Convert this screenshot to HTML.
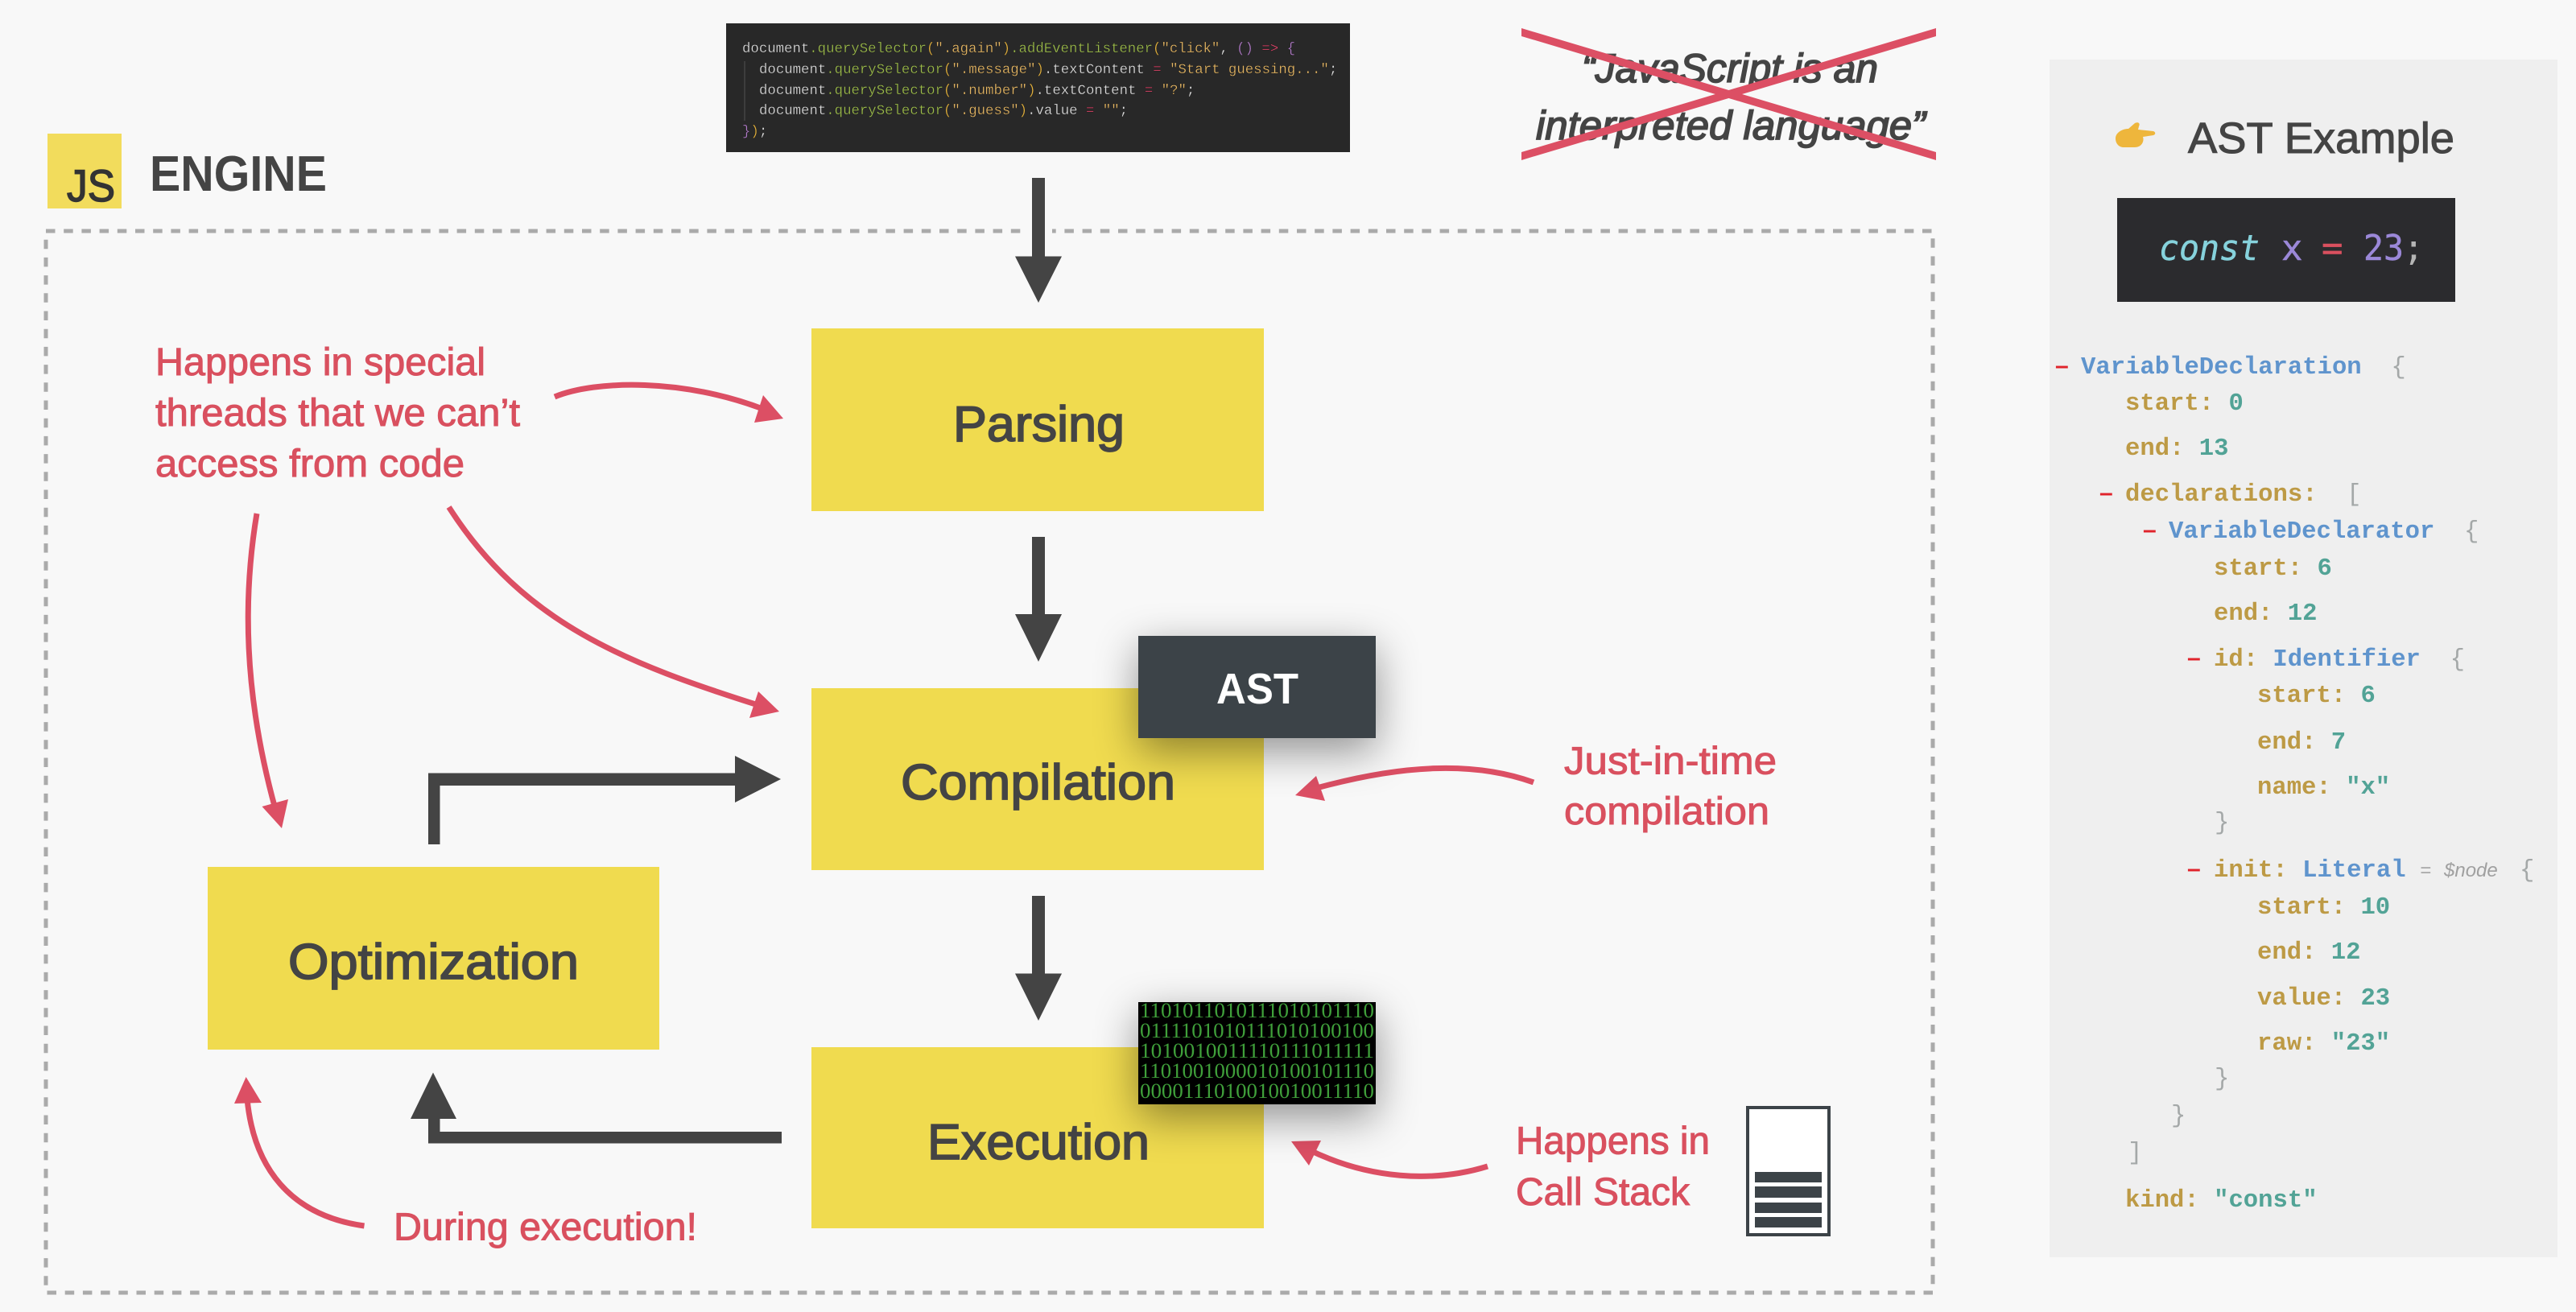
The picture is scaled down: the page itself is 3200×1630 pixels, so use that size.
<!DOCTYPE html>
<html><head><meta charset="utf-8"><style>
html,body{margin:0;padding:0;background:#f8f8f8;width:3200px;height:1630px;overflow:hidden}
svg{display:block;position:absolute;left:0;top:0}
text{white-space:pre;font-family:"Liberation Sans",sans-serif}
.h{fill:#444;stroke:#444;stroke-width:1.7px}
.r{fill:#d9505f;font-size:48px;stroke:#d9505f;stroke-width:1px}
.m{font-family:"Liberation Mono",monospace;font-size:17.35px;fill:#dcdcdc;stroke:currentColor;stroke-width:.2px}
.g{fill:#9dbb4e}.y{fill:#e0b040}.o{fill:#e2b565}.pk{fill:#d8486a}.pu{fill:#b07cc6}
.a{font-family:"Liberation Mono",monospace;font-size:30.58px;font-weight:bold;fill:#bd9a45}
.v{fill:#52a396}.t{fill:#5f94cd}.p{fill:#a4a8a8;font-weight:normal}
.d{font-size:30px;font-weight:bold;fill:#e0232b}
.b{font-family:"Liberation Serif",serif;font-size:26px;fill:#3f9f3a}
.c{font-family:"DejaVu Sans Mono",monospace;font-size:44px;stroke-width:.5px}
.box{position:absolute;width:295px;height:127px;box-shadow:0 16px 52px rgba(0,0,0,.42)}
</style></head><body>
<svg width="3200" height="1630" viewBox="0 0 3200 1630" xmlns="http://www.w3.org/2000/svg">
<rect width="3200" height="1630" fill="#f8f8f8"/>
<!-- engine frame -->
<rect x="57" y="287" width="2344" height="1319" fill="none" stroke="#aaa" stroke-width="5" stroke-dasharray="11.5 10.7"/>
<rect x="1276" y="280" width="31" height="14" fill="#f8f8f8"/>
<!-- logo -->
<rect x="59" y="166" width="92" height="93" fill="#f2dc5c"/>
<text x="83" y="250" font-size="56" fill="#333" stroke="#333" stroke-width="1.5" textLength="60" lengthAdjust="spacingAndGlyphs">JS</text>
<text x="186" y="237" font-size="62" font-weight="bold" fill="#444" textLength="220" lengthAdjust="spacingAndGlyphs">ENGINE</text>
<!-- boxes -->
<rect x="1008" y="408" width="562" height="227" fill="#f0db4f"/>
<rect x="1008" y="855" width="562" height="226" fill="#f0db4f"/>
<rect x="1008" y="1301" width="562" height="225" fill="#f0db4f"/>
<rect x="258" y="1077" width="561" height="227" fill="#f0db4f"/>
<text x="1184" y="548" font-size="62" class="h" textLength="213" lengthAdjust="spacingAndGlyphs">Parsing</text>
<text x="1119" y="993" font-size="62" class="h" textLength="341" lengthAdjust="spacingAndGlyphs">Compilation</text>
<text x="1152" y="1440" font-size="62" class="h" textLength="276" lengthAdjust="spacingAndGlyphs">Execution</text>
<text x="358" y="1216" font-size="62" class="h" textLength="361" lengthAdjust="spacingAndGlyphs">Optimization</text>
<!-- dark arrows -->
<g fill="#444">
<polygon points="1282,221 1298,221 1298,318.5 1319,318.5 1290,376 1261,318.5 1282,318.5"/>
<polygon points="1282,667 1298,667 1298,763 1319,763 1290,822 1261,763 1282,763"/>
<polygon points="1282,1113 1298,1113 1298,1209.5 1319,1209.5 1290,1268 1261,1209.5 1282,1209.5"/>
<polygon points="532,1049 532,960.5 913,960.5 913,939 970,968 913,997 913,976 546.5,976 546.5,1049"/>
<polygon points="971,1406 546.5,1406 546.5,1390 567,1390 538,1332.5 510,1390 532,1390 532,1420.5 971,1420.5"/>
</g>
<!-- red arrows -->
<g fill="none" stroke="#dc4f64" stroke-width="7">
<path d="M689 493 C740 472 850 470 950 509"/>
<path d="M319 638 C302 740 302 860 342 1005"/>
<path d="M557.6 630 C650 775 780 825 945 877"/>
<path d="M1905 972 C1830 945 1740 950 1632 980"/>
<path d="M1848 1449 C1780 1470 1700 1465 1625 1428"/>
<path d="M452.5 1523 C360 1510 315 1450 307 1365"/>
</g>
<g fill="#dc4f64">
<polygon points="973,520 948,491 937,525"/>
<polygon points="350,1029 325.5,1002 358,993"/>
<polygon points="968,884 942,859 931,892"/>
<polygon points="1609,988 1635,964 1646,995"/>
<polygon points="1604,1418 1641,1417 1626,1448"/>
<polygon points="305.6,1338 291,1371 325,1370"/>
</g>
<!-- red labels -->
<text class="r" x="193" y="466" textLength="410" lengthAdjust="spacingAndGlyphs">Happens in special</text>
<text class="r" x="193" y="529" textLength="453" lengthAdjust="spacingAndGlyphs">threads that we can’t</text>
<text class="r" x="193" y="592" textLength="384" lengthAdjust="spacingAndGlyphs">access from code</text>
<text class="r" x="1943" y="961.5" textLength="264" lengthAdjust="spacingAndGlyphs">Just-in-time</text>
<text class="r" x="1943" y="1024" textLength="255" lengthAdjust="spacingAndGlyphs">compilation</text>
<text class="r" x="1883" y="1433.5" textLength="241" lengthAdjust="spacingAndGlyphs">Happens in</text>
<text class="r" x="1883" y="1497" textLength="216" lengthAdjust="spacingAndGlyphs">Call Stack</text>
<text class="r" x="489" y="1540.5" textLength="377" lengthAdjust="spacingAndGlyphs">During execution!</text>
<!-- stack icon -->
<rect x="2171" y="1376" width="101" height="158" fill="#fff" stroke="#3c4348" stroke-width="4"/>
<g fill="#3c4348">
<rect x="2180" y="1456" width="83" height="13"/><rect x="2180" y="1474" width="83" height="14"/>
<rect x="2180" y="1494" width="83" height="13"/><rect x="2180" y="1512" width="83" height="13"/>
</g>
<!-- code snippet -->
<rect x="902" y="29" width="775" height="160" fill="#282828"/>
<line x1="925" y1="76" x2="925" y2="150" stroke="#444" stroke-width="1.5"/>
<text class="m" x="922" y="65">document<tspan class="g">.querySelector</tspan><tspan class="y">(</tspan><tspan class="o">".again"</tspan><tspan class="y">)</tspan><tspan class="g">.addEventListener</tspan><tspan class="y">(</tspan><tspan class="o">"click"</tspan>, <tspan class="pu">()</tspan> <tspan class="pk">=&gt;</tspan> <tspan class="pu">{</tspan></text>
<text class="m" x="943" y="91">document<tspan class="g">.querySelector</tspan><tspan class="y">(</tspan><tspan class="o">".message"</tspan><tspan class="y">)</tspan>.textContent <tspan class="pk">=</tspan> <tspan class="o">"Start guessing..."</tspan>;</text>
<text class="m" x="943" y="117">document<tspan class="g">.querySelector</tspan><tspan class="y">(</tspan><tspan class="o">".number"</tspan><tspan class="y">)</tspan>.textContent <tspan class="pk">=</tspan> <tspan class="o">"?"</tspan>;</text>
<text class="m" x="943" y="142">document<tspan class="g">.querySelector</tspan><tspan class="y">(</tspan><tspan class="o">".guess"</tspan><tspan class="y">)</tspan>.value <tspan class="pk">=</tspan> <tspan class="o">""</tspan>;</text>
<text class="m" x="922" y="168"><tspan class="pu">}</tspan><tspan class="y">)</tspan>;</text>
<!-- crossed quote -->
<text x="1965" y="102" font-size="50" font-style="italic" class="h" textLength="368" lengthAdjust="spacingAndGlyphs">“JavaScript is an</text>
<text x="1908" y="173" font-size="50" font-style="italic" class="h" textLength="484" lengthAdjust="spacingAndGlyphs">interpreted language”</text>
<clipPath id="xc"><rect x="1890" y="0" width="515" height="300"/></clipPath>
<g clip-path="url(#xc)" stroke="#dc4f64" stroke-width="9.5">
<line x1="1880" y1="37" x2="2415" y2="197"/>
<line x1="1880" y1="197" x2="2415" y2="37"/>
</g>
<!-- AST panel -->
<rect x="2546" y="74" width="631" height="1488" fill="#efefef"/>
<path d="M2628 172 C2628 165 2636 160 2644 160 L2652 153 C2656 151 2659 153 2657 157 L2656 161 L2675 163 C2678 164 2678 167 2675 168 L2662 170 C2664 176 2660 183 2652 183 L2638 183 C2632 183 2628 178 2628 172Z" fill="#eeb63c"/>
<text x="2718" y="190" font-size="54" fill="#444" stroke="#444" stroke-width="1.1" textLength="331" lengthAdjust="spacingAndGlyphs">AST Example</text>
<rect x="2630" y="246" width="420" height="129" fill="#2b2b2e"/>
<text class="c" x="2682" y="323" font-style="italic" fill="#86d2dc" stroke="#86d2dc" textLength="125" lengthAdjust="spacingAndGlyphs">const</text>
<text class="c" x="2834" y="323" fill="#9b88d8" stroke="#9b88d8">x</text>
<text class="c" x="2884" y="323" fill="#d9505f" stroke="#d9505f">=</text>
<text class="c" x="2936" y="323" fill="#9b88d8" stroke="#9b88d8" textLength="50" lengthAdjust="spacingAndGlyphs">23</text>
<text class="c" x="2985" y="323" fill="#b5b5b5">;</text>
<!-- tree -->
<text class="d" x="2553" y="464">–</text>
<text class="a" x="2585" y="464"><tspan class="t">VariableDeclaration</tspan>  <tspan class="p">{</tspan></text>
<text class="a" x="2640" y="509">start: <tspan class="v">0</tspan></text>
<text class="a" x="2640" y="565">end: <tspan class="v">13</tspan></text>
<text class="d" x="2608" y="622">–</text>
<text class="a" x="2640" y="622">declarations:  <tspan class="p">[</tspan></text>
<text class="d" x="2662" y="668">–</text>
<text class="a" x="2694" y="668"><tspan class="t">VariableDeclarator</tspan>  <tspan class="p">{</tspan></text>
<text class="a" x="2750" y="714">start: <tspan class="v">6</tspan></text>
<text class="a" x="2750" y="770">end: <tspan class="v">12</tspan></text>
<text class="d" x="2717" y="827">–</text>
<text class="a" x="2750" y="827">id: <tspan class="t">Identifier</tspan>  <tspan class="p">{</tspan></text>
<text class="a" x="2804" y="872">start: <tspan class="v">6</tspan></text>
<text class="a" x="2804" y="930">end: <tspan class="v">7</tspan></text>
<text class="a" x="2804" y="986">name: <tspan class="v">"x"</tspan></text>
<text class="a p" x="2751" y="1030">}</text>
<text class="d" x="2717" y="1089">–</text>
<text class="a" x="2750" y="1089">init: <tspan class="t">Literal</tspan></text>
<text x="3006" y="1089" font-family="Liberation Mono" font-size="24" font-style="italic" fill="#a8a8a8">= </text>
<text x="3036" y="1089" font-family="Liberation Mono" font-size="24" font-style="italic" fill="#a0a0a0">$node</text>
<text class="a p" x="3130" y="1089">{</text>
<text class="a" x="2804" y="1135">start: <tspan class="v">10</tspan></text>
<text class="a" x="2804" y="1191">end: <tspan class="v">12</tspan></text>
<text class="a" x="2804" y="1248">value: <tspan class="v">23</tspan></text>
<text class="a" x="2804" y="1304">raw: <tspan class="v">"23"</tspan></text>
<text class="a p" x="2751" y="1348">}</text>
<text class="a p" x="2697" y="1394">}</text>
<text class="a p" x="2643" y="1440">]</text>
<text class="a" x="2640" y="1499">kind: <tspan class="v">"const"</tspan></text>
</svg>
<div class="box" style="left:1414px;top:790px;background:#3c4348"></div>
<div class="box" style="left:1414px;top:1245px;background:#000"></div>
<svg width="3200" height="1630" viewBox="0 0 3200 1630" xmlns="http://www.w3.org/2000/svg">
<text x="1511" y="874" font-size="54" font-weight="bold" fill="#fff" textLength="102" lengthAdjust="spacingAndGlyphs">AST</text>
<text class="b" x="1416" y="1264" textLength="291" lengthAdjust="spacingAndGlyphs">1101011010111010101110</text>
<text class="b" x="1416" y="1289" textLength="291" lengthAdjust="spacingAndGlyphs">0111101010111010100100</text>
<text class="b" x="1416" y="1314" textLength="291" lengthAdjust="spacingAndGlyphs">1010010011110111011111</text>
<text class="b" x="1416" y="1339" textLength="291" lengthAdjust="spacingAndGlyphs">1101001000010100101110</text>
<text class="b" x="1416" y="1364" textLength="291" lengthAdjust="spacingAndGlyphs">0000111010010010011110</text>
</svg>
</body></html>
